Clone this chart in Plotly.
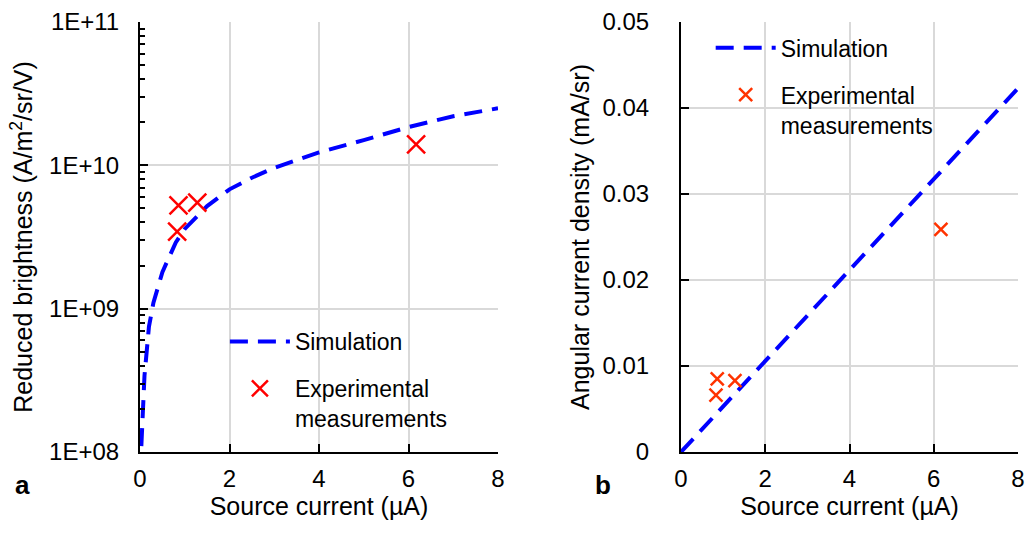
import plotly.graph_objects as go

# ---------------- data ----------------
sim_current_a = [0.03, 0.05, 0.1, 0.2, 0.3, 0.5, 0.8, 1.0, 1.5, 2, 2.5, 3, 4, 5, 6, 7, 8]
sim_brightness = [1.1e8, 1.7e8, 3.4e8, 7.5e8, 1.1e9, 1.8e9, 2.9e9, 3.6e9, 5.2e9, 6.8e9,
                  8.2e9, 9.6e9, 1.23e10, 1.5e10, 1.85e10, 2.2e10, 2.5e10]

exp_current = [0.83, 0.86, 1.28, 6.17]
exp_brightness = [3.45e9, 5.25e9, 5.5e9, 1.4e10]

sim_current_b = [0, 1, 2, 3, 4, 5, 6, 7, 8]
sim_density = [0, 0.0053, 0.0106, 0.0158, 0.0211, 0.0264, 0.0317, 0.0370, 0.0423]

exp_density = [0.0066, 0.0085, 0.0083, 0.0259]

x_ticks = [0, 2, 4, 6, 8]
y_ticks_a = [1e8, 1e9, 1e10, 1e11]
y_ticklabels_a = ["1E+08", "1E+09", "1E+10", "1E+11"]
y_minor_ticks_a = [m * d for d in (1e8, 1e9, 1e10) for m in range(2, 10)]
y_ticks_b = [0, 0.01, 0.02, 0.03, 0.04, 0.05]
y_ticklabels_b = ["0", "0.01", "0.02", "0.03", "0.04", "0.05"]

# ---------------- figure ----------------
FONT = "Liberation Sans, Arial, sans-serif"
TFS = 24   # tick labels
AFS = 25   # axis titles
LFS = 23   # legend
BLUE = "#0000FF"
RED_A = "#FF0000"
RED_B = "#FF3300"
GRID = "#D9D9D9"

W, H = 1027, 535
TOP, BOT = 22, 452
plot_h = BOT - TOP

fig = go.Figure()

fig.add_trace(go.Scatter(
    x=sim_current_a, y=sim_brightness, mode="lines", name="Simulation",
    line=dict(color=BLUE, width=4, dash="18px,10px"),
    xaxis="x", yaxis="y", legend="legend", legendgroup="a1"))
fig.add_trace(go.Scatter(
    x=exp_current, y=exp_brightness, mode="markers", name="Experimental<br>measurements",
    marker=dict(symbol="x-thin", size=18, line=dict(color=RED_A, width=2.5), color=RED_A),
    xaxis="x", yaxis="y", legend="legend", legendgroup="a2"))

fig.add_trace(go.Scatter(
    x=sim_current_b, y=sim_density, mode="lines", name="Simulation",
    line=dict(color=BLUE, width=4, dash="18px,10px"),
    xaxis="x2", yaxis="y2", legend="legend2", legendgroup="b1"))
fig.add_trace(go.Scatter(
    x=exp_current, y=exp_density, mode="markers", name="Experimental<br>measurements",
    marker=dict(symbol="x-thin", size=13, line=dict(color=RED_B, width=2.5), color=RED_B),
    xaxis="x2", yaxis="y2", legend="legend2", legendgroup="b2"))

axis_common = dict(
    showline=True, linecolor="black", linewidth=2, mirror=False,
    showgrid=True, gridcolor=GRID, gridwidth=1.5, zeroline=False,
    ticks="inside", ticklen=8, tickwidth=1.5, tickcolor="black",
    tickfont=dict(family=FONT, size=TFS, color="black"),
    automargin=False,
)

title_font = dict(family=FONT, size=AFS, color="black")

fig.update_layout(
    width=W, height=H,
    paper_bgcolor="white", plot_bgcolor="white",
    margin=dict(l=0, r=0, t=TOP, b=H - BOT, autoexpand=False),
    font=dict(family=FONT, size=TFS, color="black"),
    xaxis=dict(domain=[140/W, 498/W], range=[0, 8], tickvals=x_ticks, ticklabelstandoff=4,
               title=dict(text="Source current (µA)", font=title_font, standoff=6),
               anchor="y", **axis_common),
    yaxis=dict(type="log", range=[8, 11], tickvals=y_ticks_a, ticktext=y_ticklabels_a,
               ticklabelstandoff=14,
               title=dict(text="Reduced brightness (A/m<sup>2</sup>/sr/V)", font=title_font, standoff=9),
               minor=dict(tickvals=y_minor_ticks_a, ticks="inside", ticklen=5, tickwidth=1.5,
                          tickcolor="black", showgrid=False),
               anchor="x", **axis_common),
    xaxis2=dict(domain=[681/W, 1018/W], range=[0, 8], tickvals=x_ticks, ticklabelstandoff=4,
                title=dict(text="Source current (µA)", font=title_font, standoff=6),
                anchor="y2", **axis_common),
    yaxis2=dict(range=[0, 0.05], tickvals=y_ticks_b, ticktext=y_ticklabels_b,
                ticklabelstandoff=25,
                title=dict(text="Angular current density (mA/sr)", font=title_font, standoff=6),
                anchor="x2", **axis_common),
    legend=dict(x=0.219, y=0.307, xanchor="left", yanchor="top", bgcolor="rgba(0,0,0,0)",
                font=dict(family=FONT, size=LFS, color="black"), traceorder="grouped",
                tracegroupgap=14, valign="top", itemwidth=60),
    legend2=dict(x=0.692, y=0.99, xanchor="left", yanchor="top", bgcolor="rgba(0,0,0,0)",
                 font=dict(family=FONT, size=LFS, color="black"), traceorder="grouped",
                 tracegroupgap=14, valign="top", itemwidth=60),
    annotations=[
        dict(text="<b>a</b>", x=22/W, y=(BOT - 485) / plot_h, xref="paper", yref="paper",
             showarrow=False, xanchor="center", yanchor="middle",
             font=dict(family=FONT, size=26, color="black")),
        dict(text="<b>b</b>", x=603/W, y=(BOT - 485) / plot_h, xref="paper", yref="paper",
             showarrow=False, xanchor="center", yanchor="middle",
             font=dict(family=FONT, size=26, color="black")),
    ],
)

fig.write_html("out.html",
               config={"displayModeBar": False},
               post_script="document.body.style.margin='0px';document.body.style.padding='0px';")
